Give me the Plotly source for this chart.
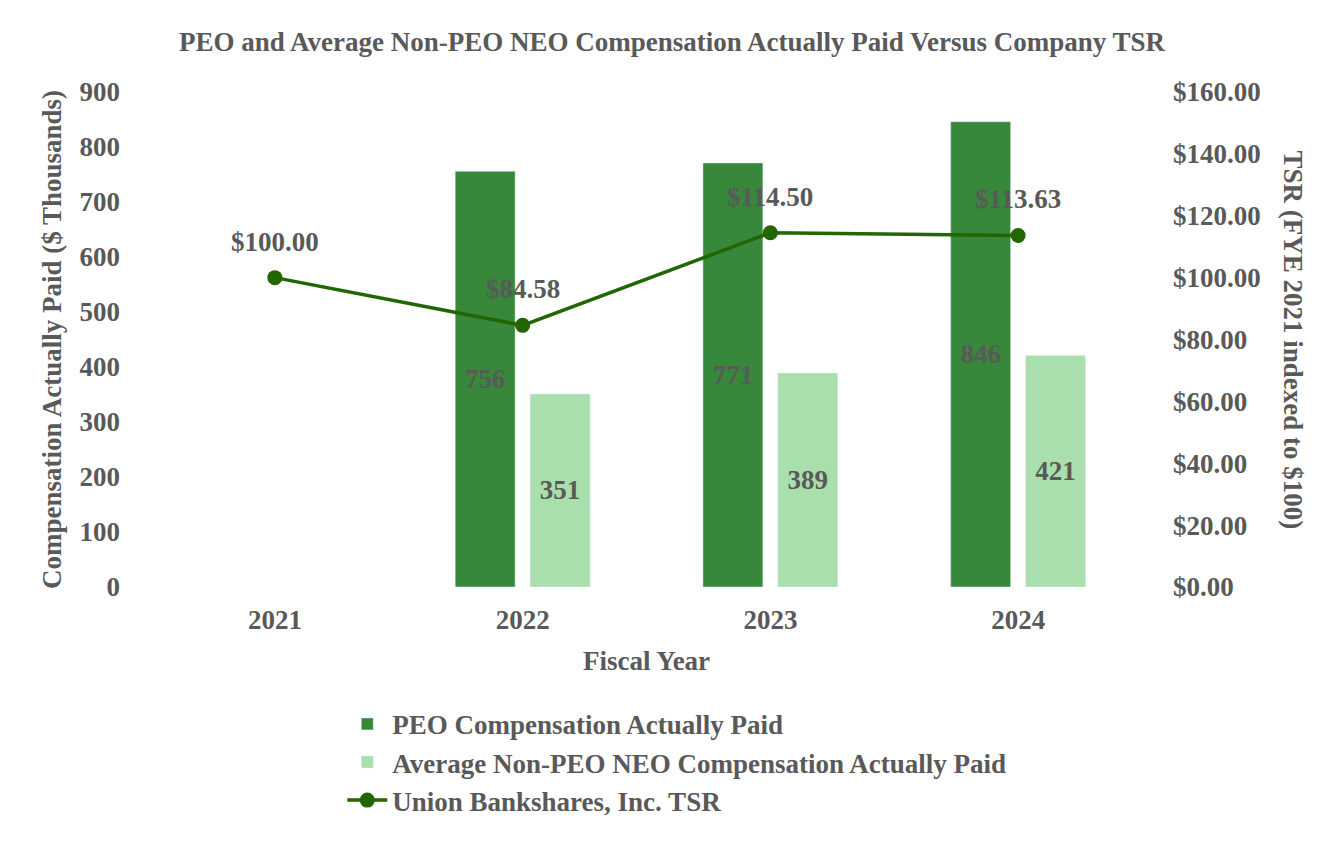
import plotly.graph_objects as go

years = ["2021", "2022", "2023", "2024"]
peo_cap = [None, 756, 771, 846]
neo_cap = [None, 351, 389, 421]
tsr = [100.00, 84.58, 114.50, 113.63]

FONT = "Liberation Serif"
GREY = "#595959"
DARK = "#37883b"
LIGHT = "#a9dfac"
LINE = "#216600"
FS = 27

def lbl(v):
    return "" if v is None else f"<b>{v}</b>"

fig = go.Figure()
fig.add_trace(go.Bar(
    x=years, y=peo_cap, name="<b>PEO Compensation Actually Paid</b>",
    marker_color=DARK, text=[lbl(v) for v in peo_cap],
    textposition="inside", insidetextanchor="middle",
    textfont=dict(family=FONT, size=FS, color=GREY), textangle=0,
))
fig.add_trace(go.Bar(
    x=years, y=neo_cap, name="<b>Average Non-PEO NEO Compensation Actually Paid</b>",
    marker_color=LIGHT, text=[lbl(v) for v in neo_cap],
    textposition="inside", insidetextanchor="middle",
    textfont=dict(family=FONT, size=FS, color=GREY), textangle=0,
))
fig.add_trace(go.Scatter(
    x=years, y=tsr, name="<b>Union Bankshares, Inc. TSR</b>", yaxis="y2",
    mode="lines+markers", line=dict(color=LINE, width=3.5),
    marker=dict(color=LINE, size=15),
))

# TSR value labels (category index positions on the category axis)
for i, yv in enumerate(tsr):
    fig.add_annotation(x=i, y=yv, xref="x", yref="y2", yshift=36,
                       text=f"<b>${yv:.2f}</b>", showarrow=False,
                       font=dict(family=FONT, size=FS, color=GREY))

fig.add_annotation(x=1.1524, y=0.5, xref="paper", yref="paper",
                   xanchor="center", yanchor="middle",
                   text="<b>TSR (FYE 2021 indexed to $100)</b>", textangle=90,
                   showarrow=False, font=dict(family=FONT, size=FS, color=GREY))

fig.update_layout(
    width=1344, height=850,
    paper_bgcolor="white", plot_bgcolor="white",
    margin=dict(l=151, r=202, t=92, b=263),
    font=dict(family=FONT, color=GREY, size=FS),
    title=dict(text="<b>PEO and Average Non-PEO NEO Compensation Actually Paid Versus Company TSR</b>",
               x=0.5, xanchor="center", y=0.951, yanchor="middle",
               font=dict(family=FONT, size=FS, color=GREY)),
    barmode="group", bargap=0.395, bargroupgap=0.2,
    showlegend=True,
    legend=dict(x=0.193, y=-0.228, xanchor="left", yanchor="top",
                font=dict(family=FONT, size=FS, color=GREY),
                tracegroupgap=0, itemwidth=40, bgcolor="rgba(0,0,0,0)"),
    xaxis=dict(type="category", showgrid=False, showline=False, zeroline=False, ticks="",
               tickfont=dict(family=FONT, size=FS, color=GREY),
               tickprefix="<b>", ticksuffix="</b>", ticklabelstandoff=14,
               title=dict(text="<b>Fiscal Year</b>", standoff=17,
                          font=dict(family=FONT, size=FS, color=GREY))),
    yaxis=dict(range=[0, 900], dtick=100, showgrid=False, zeroline=False, showline=False,
               tickfont=dict(family=FONT, size=FS, color=GREY),
               tickprefix="<b>", ticksuffix="</b>", ticklabelstandoff=30,
               title=dict(text="<b>Compensation Actually Paid ($ Thousands)</b>", standoff=10,
                          font=dict(family=FONT, size=FS, color=GREY))),
    yaxis2=dict(range=[0, 160], dtick=20, overlaying="y", side="right",
                showgrid=False, zeroline=False, showline=False,
                tickformat="$.2f", tickprefix="<b>", ticksuffix="</b>", ticklabelstandoff=30,
                tickfont=dict(family=FONT, size=FS, color=GREY)),
)

fig.write_html("out.html")
